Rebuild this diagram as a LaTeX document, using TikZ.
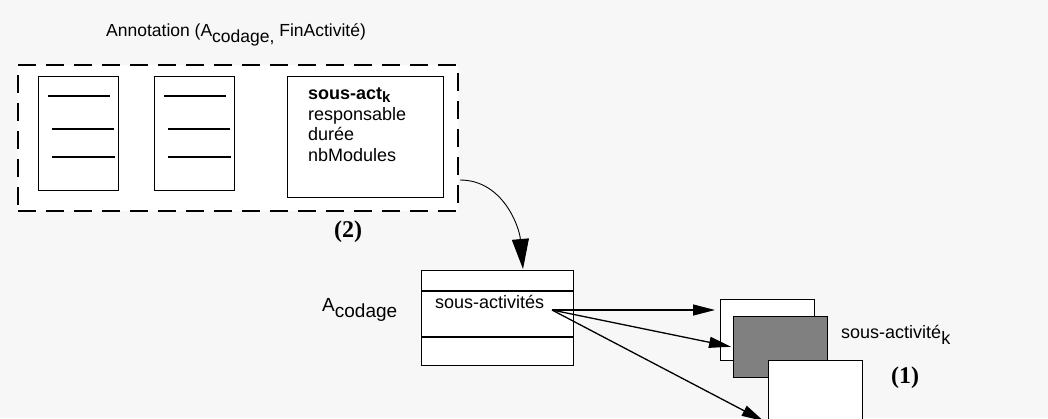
\documentclass[tikz,border=0pt]{standalone}
\usepackage{fontspec}
\setmainfont{Liberation Sans}
\newfontfamily\numfont{Liberation Serif}
\usetikzlibrary{arrows.meta}

\definecolor{bgcol}{HTML}{F7F7F7}
\definecolor{darkbox}{HTML}{808080}

% lowered subscript, nearly full size
\newcommand{\lowsub}[1]{\raisebox{-6.5pt}{#1}}

\begin{document}
\begin{tikzpicture}[x=1pt, y=-1pt, >={Triangle[length=22pt,width=11pt]},
  box/.style={draw, line width=1.3pt, fill=white, inner sep=0pt, anchor=north west},
  txt/.style={font=\fontsize{18}{21}\selectfont, inner sep=0pt, anchor=base west},
  tag/.style={font=\numfont\bfseries\fontsize{24}{24}\selectfont, inner sep=0pt}]

% Background
\fill[bgcol] (0,0) rectangle (1048,418);
\useasboundingbox (0,0) rectangle (1048,418);

% Parameters
\def\W{94}
\def\H{61}

% Annotation frame
\node[box, line width=2pt, dash pattern=on 18pt off 10pt,
      minimum width=440pt, minimum height=146pt] (frame) at (17,64) {};
\node[txt, font=\fontsize{17.5}{21}\selectfont] (title) at (106,36)
  {Annotation (A\lowsub{codage,} FinActivité)};

% Two plain cards
\foreach \dx/\nm in {0/cardA,116/cardB}
{
    \node[box, minimum width=80pt, minimum height=114pt] (\nm) at (38+\dx,76) {};
    \draw[line width=1.3pt] (48+\dx,96) -- (110+\dx,96);
    \draw[line width=1.3pt] (52+\dx,129) -- (114+\dx,129);
    \draw[line width=1.3pt] (52+\dx,157) -- (115+\dx,157);
}

% Card with attributes
\node[box, minimum width=156pt, minimum height=121pt] (cardC) at (287,76) {};
\node[txt, font=\bfseries\fontsize{18}{21}\selectfont] (attK) at (308,99)
  {sous-act\raisebox{-3.5pt}{\fontsize{15}{15}\selectfont k}};
\node[txt] (attR) at (308,120) {responsable};
\node[txt] (attD) at (308,140) {durée};
\node[txt] (attN) at (308,161) {nbModules};

\node[tag] (two) at (348,232) {(2)};

% Class A_codage
\node[box, minimum width=152pt, minimum height=95pt] (acod) at (421,270) {};
\draw[line width=1.3pt] (421,291) -- (573,291);
\draw[line width=1.3pt] (421,337) -- (573,337);
\node[txt, font=\fontsize{19}{21}\selectfont] (acodlbl) at (322,311) {A\lowsub{codage}};
\node[txt] (subacts) at (435,308) {sous-activités};

% Curved link
\coordinate (cstart) at (460,180);
\coordinate (cend) at (523,269);
\draw[->, >={Triangle[length=30pt,width=17pt]}, line width=0.9pt]
  (cstart) to[out=0, in=95] (cend);

% Stacked sub-activities
\node[box, minimum width=\W pt, minimum height=\H pt] (back) at (720,299) {};
\node[box, fill=darkbox, minimum width=\W pt, minimum height=\H pt] (mid) at (733,316) {};
\node[box, minimum width=\W pt, minimum height=62pt] (front) at (768,360) {};
\node[txt] (sublbl) at (841,338) {sous-activité\lowsub{k}};
\node[tag] (one) at (905,378) {(1)};

% Links
\coordinate (src) at (552,310);
\draw[->, line width=1.3pt, shorten >=5pt] (src) -- (src -| back.west);
\draw[->, line width=1.3pt, shorten >=2pt] (src) -- (mid.west);
\draw[->, line width=1.3pt, shorten >=5pt] (src) -- (front.south west);

\end{tikzpicture}
\end{document}
